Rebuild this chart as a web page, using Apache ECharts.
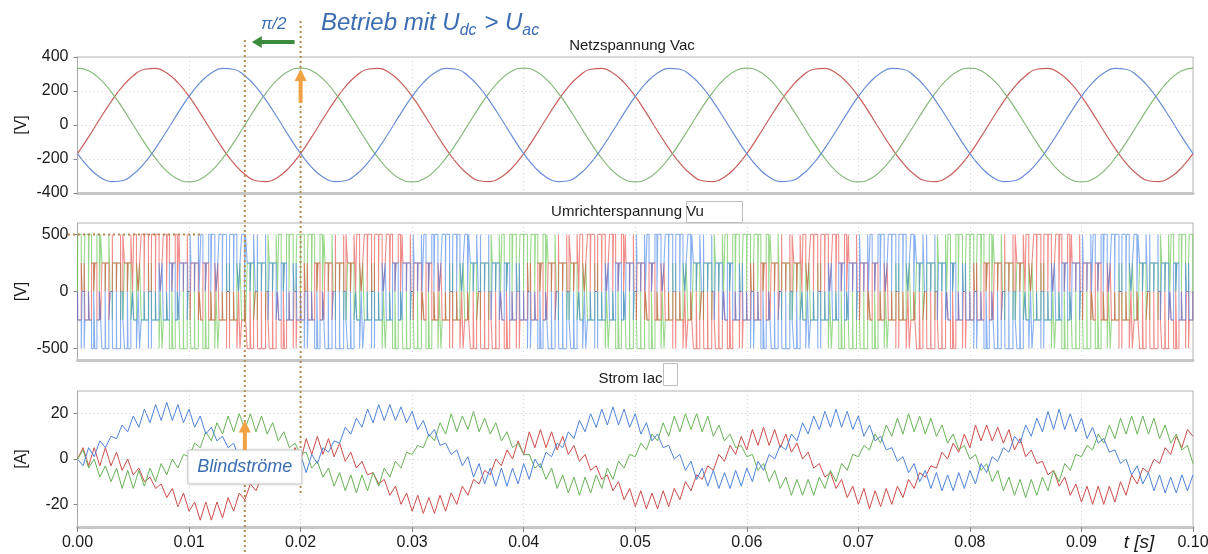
<!DOCTYPE html>
<html>
<head>
<meta charset="utf-8">
<script src="https://cdn.jsdelivr.net/npm/echarts@6/dist/echarts.min.js"></script>
<style>
  html, body { margin: 0; padding: 0; background: #ffffff; }
  #chart { width: 1208px; height: 554px; }
</style>
</head>
<body>
<div id="chart"></div>
<script>
// ---------- Netzspannung Vac (V), one sample per millisecond ----------
const vacStep = 0.001;
const vacGreen = [
  335, 319, 271, 197, 104, 0, -104, -197, -271, -319, -335, -319, -271, -197, -104, 0, 104, 197, 271, 319,
  335, 319, 271, 197, 104, 0, -104, -197, -271, -319, -335, -319, -271, -197, -104, 0, 104, 197, 271, 319,
  335, 319, 271, 197, 104, 0, -104, -197, -271, -319, -335, -319, -271, -197, -104, 0, 104, 197, 271, 319,
  335, 319, 271, 197, 104, 0, -104, -197, -271, -319, -335, -319, -271, -197, -104, 0, 104, 197, 271, 319,
  335, 319, 271, 197, 104, 0, -104, -197, -271, -319, -335, -319, -271, -197, -104, 0, 104, 197, 271, 319,
  335
];
const vacRed = [
  -168, -70, 35, 136, 224, 290, 328, 333, 306, 249, 168, 70, -35, -136, -224, -290, -328, -333, -306, -249,
  -168, -70, 35, 136, 224, 290, 328, 333, 306, 249, 168, 70, -35, -136, -224, -290, -328, -333, -306, -249,
  -168, -70, 35, 136, 224, 290, 328, 333, 306, 249, 168, 70, -35, -136, -224, -290, -328, -333, -306, -249,
  -168, -70, 35, 136, 224, 290, 328, 333, 306, 249, 168, 70, -35, -136, -224, -290, -328, -333, -306, -249,
  -168, -70, 35, 136, 224, 290, 328, 333, 306, 249, 168, 70, -35, -136, -224, -290, -328, -333, -306, -249,
  -168
];
const vacBlue = [
  -168, -249, -306, -333, -328, -290, -224, -136, -35, 70, 168, 249, 306, 333, 328, 290, 224, 136, 35, -70,
  -168, -249, -306, -333, -328, -290, -224, -136, -35, 70, 168, 249, 306, 333, 328, 290, 224, 136, 35, -70,
  -168, -249, -306, -333, -328, -290, -224, -136, -35, 70, 168, 249, 306, 333, 328, 290, 224, 136, 35, -70,
  -168, -249, -306, -333, -328, -290, -224, -136, -35, 70, 168, 249, 306, 333, 328, 290, 224, 136, 35, -70,
  -168, -249, -306, -333, -328, -290, -224, -136, -35, 70, 168, 249, 306, 333, 328, 290, 224, 136, 35, -70,
  -168
];

// ---------- Umrichterspannung Vu: switch duty per 1 ms carrier period (%) ----------
const carrierPeriod = 0.001;
const udc = 750;
const dutyGreen = [
  97, 92, 84, 72, 57, 43, 28, 16, 8, 3, 3, 8, 16, 28, 43, 57, 72, 84, 92, 97,
  96, 92, 83, 72, 58, 42, 28, 17, 8, 3, 4, 8, 16, 29, 43, 56, 72, 84, 91, 97,
  97, 91, 84, 71, 57, 43, 27, 16, 9, 3, 3, 9, 16, 28, 44, 57, 71, 84, 92, 96,
  97, 92, 84, 72, 56, 43, 28, 16, 8, 4, 3, 8, 17, 28, 43, 57, 72, 83, 92, 97,
  96, 92, 84, 72, 57, 44, 28, 16, 8, 3, 3, 8, 16, 27, 43, 58, 72, 84, 92, 97
];
const dutyRed = [
  33, 48, 62, 76, 87, 94, 97, 96, 90, 80, 67, 52, 38, 24, 13, 6, 3, 4, 10, 20,
  34, 48, 63, 76, 86, 94, 97, 96, 91, 80, 66, 52, 38, 25, 13, 6, 3, 4, 10, 21,
  33, 47, 62, 77, 87, 93, 97, 96, 90, 79, 67, 53, 38, 24, 12, 6, 4, 4, 10, 20,
  33, 48, 62, 76, 87, 94, 96, 96, 90, 80, 67, 52, 37, 24, 13, 7, 3, 4, 11, 20,
  32, 48, 62, 76, 88, 94, 97, 95, 90, 80, 68, 52, 38, 24, 13, 6, 3, 5, 10, 20
];
const dutyBlue = [
  20, 10, 4, 3, 6, 13, 24, 38, 52, 67, 80, 90, 96, 97, 94, 87, 76, 62, 48, 33,
  20, 10, 4, 3, 6, 14, 24, 38, 51, 67, 80, 90, 96, 97, 93, 87, 76, 62, 49, 33,
  20, 11, 4, 3, 6, 13, 25, 38, 52, 66, 80, 89, 96, 97, 94, 87, 77, 62, 48, 34,
  21, 10, 4, 3, 7, 13, 24, 38, 52, 67, 79, 90, 96, 97, 94, 87, 76, 63, 48, 33,
  20, 10, 4, 3, 6, 13, 24, 39, 52, 67, 80, 90, 95, 97, 94, 86, 76, 62, 48, 33
];

// ---------- Strom Iac (A), one sample per 0.5 ms ----------
const iacStep = 0.0005;
const iacBlue = [
  0, -3, 5, 1, 8, 5, 10, 9, 15, 12, 19, 14, 22, 16, 24, 17, 25, 17, 24, 16, 22,
  14, 19, 11, 14, 8, 10, 5, 7, 0, 4, -3, 2, -6, 1, -7, 0, -7, 1, -6, 2,
  -6, 2, -2, 5, 3, 8, 7, 14, 11, 18, 14, 22, 16, 24, 17, 24, 17, 23, 16, 21,
  13, 17, 10, 13, 6, 7, 2, 4, -3, 1, -8, -2, -11, -4, -12, -4, -12, -4, -11, -2,
  -9, 0, -4, 3, 1, 7, 5, 12, 9, 17, 12, 20, 14, 22, 15, 23, 15, 22, 14, 20,
  11, 16, 8, 11, 5, 6, 0, 2, -5, -1, -9, -4, -12, -5, -13, -6, -13, -5, -12, -4,
  -10, -1, -5, 2, 0, 6, 4, 11, 8, 16, 11, 19, 13, 21, 14, 22, 14, 21, 13, 19,
  10, 15, 8, 10, 4, 5, -1, 1, -6, -2, -10, -5, -13, -6, -14, -7, -14, -6, -13, -5,
  -11, -2, -6, 1, -1, 5, 3, 10, 7, 15, 10, 18, 12, 21, 13, 22, 13, 20, 12, 18,
  9, 14, 7, 9, 3, 4, -2, 0, -7, -3, -11, -6, -14, -7, -15, -8, -15, -7, -14, -7
];
const iacRed = [
  0, 5, -3, 5, -3, 5, -3, 3, -5, 0, -7, -4, -10, -8, -13, -11, -17, -13, -21, -15, -23,
  -19, -27, -19, -27, -19, -26, -17, -23, -15, -18, -11, -14, -8, -9, -3, -6, 2, -3, 5, -1,
  9, 2, 10, 2, 9, 1, 7, -1, 3, -4, -1, -7, -6, -11, -9, -16, -12, -20, -15, -23,
  -16, -24, -17, -24, -16, -23, -15, -20, -12, -16, -9, -11, -5, -7, 0, -3, 4, 0, 8, 2,
  12, 5, 13, 5, 12, 4, 10, 2, 6, -1, 2, -5, -3, -9, -7, -14, -10, -18, -13, -21,
  -14, -22, -15, -22, -14, -21, -13, -18, -10, -14, -7, -9, -3, -5, 2, -1, 6, 2, 10, 4,
  13, 6, 14, 6, 13, 5, 11, 3, 7, 0, 3, -4, -2, -8, -6, -13, -9, -17, -12, -20,
  -13, -22, -14, -21, -13, -20, -12, -17, -9, -13, -6, -8, -3, -4, 3, 0, 7, 3, 11, 5,
  15, 8, 15, 8, 14, 7, 13, 4, 9, 1, 4, -2, -1, -7, -5, -12, -8, -16, -11, -19,
  -12, -20, -12, -20, -12, -19, -10, -16, -7, -11, -4, -6, 0, -2, 5, 2, 10, 5, 13, 10
];
const iacGreen = [
  0, 4, -4, 0, -8, -3, -10, -4, -13, -5, -13, -5, -12, -4, -10, -2, -7, 0, -4, 2, 1,
  7, 5, 12, 8, 16, 11, 19, 12, 20, 13, 20, 12, 19, 11, 16, 8, 12, 5, 7, 2,
  3, -4, -1, -8, -4, -12, -6, -14, -7, -15, -7, -14, -6, -12, -4, -8, -1, -4, 3, 2,
  6, 5, 11, 8, 16, 11, 20, 12, 19, 13, 21, 12, 18, 11, 16, 8, 12, 5, 7, 2,
  2, -4, -2, -9, -4, -13, -7, -15, -8, -16, -8, -15, -7, -13, -4, -9, -1, -4, 2, 1,
  7, 4, 11, 8, 16, 10, 19, 12, 20, 13, 20, 12, 19, 10, 15, 8, 11, 5, 6, 1,
  2, -5, -2, -10, -5, -13, -8, -16, -9, -16, -9, -16, -8, -13, -5, -10, -2, -5, 2, 1,
  6, 4, 11, 7, 15, 10, 18, 11, 20, 12, 19, 11, 18, 10, 15, 7, 11, 4, 6, 0,
  2, -5, -2, -10, -5, -14, -8, -16, -9, -17, -9, -16, -8, -14, -5, -10, -2, -5, 2, 1,
  6, 4, 11, 7, 15, 9, 18, 11, 19, 11, 19, 11, 18, 9, 15, 7, 11, 4, 6, -2
];

// ---------- helpers ----------
const FONT = '"Liberation Sans", Arial, Helvetica, sans-serif';
const TEXT_BLUE = '#3b6db3';
const MARK_BROWN = '#b88a52';

function sampled(values, step) {
  return values.map((v, i) => [Math.round(i * step * 1e7) / 1e7, v]);
}

// Phase voltages of a two-level converter from centred switch pulses.
function converterVoltages(duties, T, vdc) {
  const events = [];
  const n = duties[0].length;
  for (let k = 0; k < n; k++) {
    for (let p = 0; p < 3; p++) {
      const d = duties[p][k] / 100;
      if (d <= 0) continue;
      const c = (k + 0.5) * T, h = d * T / 2;
      events.push([c - h, p, 1], [c + h, p, 0]);
    }
  }
  events.sort((a, b) => a[0] - b[0]);
  const s = [0, 0, 0];
  const volt = p => vdc / 3 * (2 * s[p] - s[(p + 1) % 3] - s[(p + 2) % 3]);
  const out = [[], [], []];
  const prev = [volt(0), volt(1), volt(2)];
  for (let p = 0; p < 3; p++) out[p].push([0, prev[p]]);
  let i = 0;
  while (i < events.length) {
    const t = events[i][0];
    while (i < events.length && Math.abs(events[i][0] - t) < 1e-12) {
      s[events[i][1]] = events[i][2];
      i++;
    }
    for (let p = 0; p < 3; p++) {
      const v = volt(p);
      if (v !== prev[p]) {
        out[p].push([t, prev[p]], [t, v]);
        prev[p] = v;
      }
    }
  }
  for (let p = 0; p < 3; p++) out[p].push([n * T, prev[p]]);
  return out;
}

const vu = converterVoltages([dutyGreen, dutyRed, dutyBlue], carrierPeriod, udc);

// ---------- chart ----------
const chart = echarts.init(document.getElementById('chart'), null, { renderer: 'canvas' });

const gridBase = {
  left: 77.5, right: 15, show: true, borderColor: '#b4b4b4', borderWidth: 1,
  backgroundColor: '#fff', containLabel: false, outerBoundsMode: 'none'
};
const grids = [
  Object.assign({ top: 57, height: 136 }, gridBase),
  Object.assign({ top: 223, height: 137 }, gridBase),
  Object.assign({ top: 391, height: 136 }, gridBase)
];

function xAxisFor(i, withLabels) {
  return {
    type: 'value', gridIndex: i, min: 0, max: 0.1, interval: 0.01,
    axisLine: { show: true, onZero: false, lineStyle: { color: '#c6c6c6', width: 3 } },
    axisTick: { show: withLabels, length: 5, lineStyle: { color: '#888' } },
    axisLabel: {
      show: withLabels, margin: 8, color: '#1a1a1a', fontSize: 16, fontFamily: FONT,
      formatter: v => v.toFixed(2)
    },
    splitLine: { show: true, lineStyle: { color: '#d2d2d2', type: [1, 3], width: 1 } }
  };
}

function yAxisFor(i, min, max, ticks) {
  return {
    type: 'value', gridIndex: i, min: min, max: max,
    axisLine: { show: true, onZero: false, lineStyle: { color: '#a8a8a8', width: 1 } },
    axisTick: { show: true, length: 4, customValues: ticks, lineStyle: { color: '#888' } },
    axisLabel: { customValues: ticks, margin: 9, color: '#1a1a1a', fontSize: 16, fontFamily: FONT },
    splitLine: { show: false }
  };
}

function gridLines(i, values) {
  return {
    type: 'line', xAxisIndex: i, yAxisIndex: i, data: [], silent: true, z: 1,
    markLine: {
      silent: true, symbol: 'none', animation: false, label: { show: false },
      lineStyle: { color: '#cfcfcf', type: [1, 3], width: 1 },
      data: values.map(v => ({ yAxis: v }))
    }
  };
}

function trace(i, data, color, opts) {
  return Object.assign({
    type: 'line', xAxisIndex: i, yAxisIndex: i, data: data,
    showSymbol: false, symbol: 'none', z: 3, silent: true,
    lineStyle: { color: color, width: 1.2 }
  }, opts || {});
}

const option = {
  animation: false,
  backgroundColor: '#ffffff',
  grid: grids,
  xAxis: [xAxisFor(0, false), xAxisFor(1, false), xAxisFor(2, true)],
  yAxis: [
    yAxisFor(0, -400, 400, [-400, -200, 0, 200, 400]),
    yAxisFor(1, -600, 600, [-500, 0, 500]),
    yAxisFor(2, -30, 30, [-20, 0, 20])
  ],
  series: [
    gridLines(0, [-200, 0, 200]),
    gridLines(1, [-500, 0, 500]),
    gridLines(2, [-20, 0, 20]),

    trace(0, sampled(vacRed, vacStep), '#c95f5d', { smooth: true }),
    trace(0, sampled(vacGreen, vacStep), '#84b878', { smooth: true }),
    trace(0, sampled(vacBlue, vacStep), '#6a8ed6', { smooth: true }),

    trace(1, vu[0], '#56c03e', { lineStyle: { color: '#56c03e', width: 1.1, opacity: 0.6 } }),
    trace(1, vu[1], '#e6403a', { lineStyle: { color: '#e6403a', width: 1.1, opacity: 0.6 } }),
    trace(1, vu[2], '#3b7be6', { lineStyle: { color: '#3b7be6', width: 1.1, opacity: 0.6 } }),

    trace(2, sampled(iacRed, iacStep), '#cc4b4b', { lineStyle: { color: '#cc4b4b', width: 1 } }),
    trace(2, sampled(iacGreen, iacStep), '#68b257', { lineStyle: { color: '#68b257', width: 1 } }),
    trace(2, sampled(iacBlue, iacStep), '#4f82d9', { lineStyle: { color: '#4f82d9', width: 1 } })
  ]
};

chart.setOption(option);

// ---------- annotations ----------
const px = v => chart.convertToPixel({ xAxisIndex: 0 }, v);
const py = (i, v) => chart.convertToPixel({ yAxisIndex: i }, v);

const measureCtx = document.createElement('canvas').getContext('2d');
function textWidth(str, font) { measureCtx.font = font; return measureCtx.measureText(str).width; }

const x15 = px(0.015), x20 = px(0.02);
const g = [];

function text(str, x, y, o) {
  g.push(Object.assign({
    type: 'text', x: x, y: y, z: 120,
    style: Object.assign({
      text: str, fill: '#1a1a1a', fontSize: 15, fontFamily: FONT,
      align: 'center', verticalAlign: 'middle'
    }, o || {})
  }));
}

// panel titles
text('Netzspannung Vac', 632, 46);
text('Umrichterspannung Vu', 627.5, 212);
text('Strom Iac', 630.5, 379);
g.push({ type: 'rect', z: 119, shape: { x: 686.5, y: 201.5, width: 56, height: 21 }, style: { fill: 'none', stroke: '#bdbdbd', lineWidth: 1 } });
g.push({ type: 'rect', z: 119, shape: { x: 663.5, y: 363.5, width: 14, height: 22 }, style: { fill: 'none', stroke: '#bdbdbd', lineWidth: 1 } });

// axis units
[[0, '[V]'], [1, '[V]'], [2, '[A]']].forEach(([i, u]) => {
  g.push({
    type: 'text', x: 22, y: py(i, 0), rotation: Math.PI / 2, z: 120,
    style: { text: u, fill: '#1a1a1a', fontSize: 16, fontFamily: FONT, align: 'center', verticalAlign: 'middle' }
  });
});
text('t [s]', 1139, 543, { fontSize: 19, fontStyle: 'italic' });

// dotted markers at 0.015 s and 0.02 s
const dotted = { stroke: MARK_BROWN, lineWidth: 2, lineDash: [2, 3] };
g.push({ type: 'line', z: 110, shape: { x1: x15, y1: 40, x2: x15, y2: 554 }, style: dotted });
g.push({ type: 'line', z: 110, shape: { x1: x20, y1: 21, x2: x20, y2: 493 }, style: dotted });
g.push({ type: 'line', z: 110, shape: { x1: 68, y1: py(1, 500), x2: px(0.0110), y2: py(1, 500) }, style: dotted });

// phase shift arrow (green, pointing left)
const ay = 42;
g.push({ type: 'line', z: 115, shape: { x1: x20 - 6, y1: ay, x2: x15 + 14, y2: ay }, style: { stroke: '#3b8a3e', lineWidth: 4 } });
g.push({ type: 'polygon', z: 115, shape: { points: [[x15 + 7, ay], [x15 + 17, ay - 6], [x15 + 17, ay + 6]] }, style: { fill: '#3b8a3e' } });

// upward orange arrows
function upArrow(x, yTail, yTip) {
  g.push({ type: 'line', z: 116, shape: { x1: x, y1: yTail, x2: x, y2: yTip + 10 }, style: { stroke: '#f0a242', lineWidth: 4 } });
  g.push({ type: 'polygon', z: 116, shape: { points: [[x, yTip], [x - 6, yTip + 12], [x + 6, yTip + 12]] }, style: { fill: '#f0a242' } });
}
upArrow(x20, py(0, 130), py(0, 330));

// Blindströme label box
const boxTop = 450, boxH = 34, boxW = 114;
g.push({
  type: 'rect', z: 112, shape: { x: x15 - 57, y: boxTop, width: boxW, height: boxH },
  style: { fill: '#ffffff', stroke: '#c9c9c9', lineWidth: 1, shadowBlur: 3, shadowColor: 'rgba(0,0,0,0.12)' }
});
text('Blindströme', x15, boxTop + boxH / 2, { fontSize: 18, fontStyle: 'italic', fill: TEXT_BLUE });
upArrow(x15, boxTop, py(2, 17));

// header
text('π/2', (x15 + x20) / 2 + 1, 24, { fontSize: 17, fontStyle: 'italic', fill: TEXT_BLUE });
const mainFont = 'italic 24px ' + FONT, subFont = 'italic 16px ' + FONT;
const pieces = [['Betrieb mit U', false], ['dc', true], [' > U', false], ['ac', true]];
let hx = 321;
pieces.forEach(([str, sub]) => {
  g.push({
    type: 'text', x: hx, y: sub ? 31 : 23, z: 120,
    style: {
      text: str, fill: TEXT_BLUE, fontSize: sub ? 16 : 24, fontStyle: 'italic',
      fontFamily: FONT, align: 'left', verticalAlign: 'middle'
    }
  });
  hx += textWidth(str, sub ? subFont : mainFont) + (sub ? 1 : 0);
});

chart.setOption({ graphic: g });
</script>
</body>
</html>
